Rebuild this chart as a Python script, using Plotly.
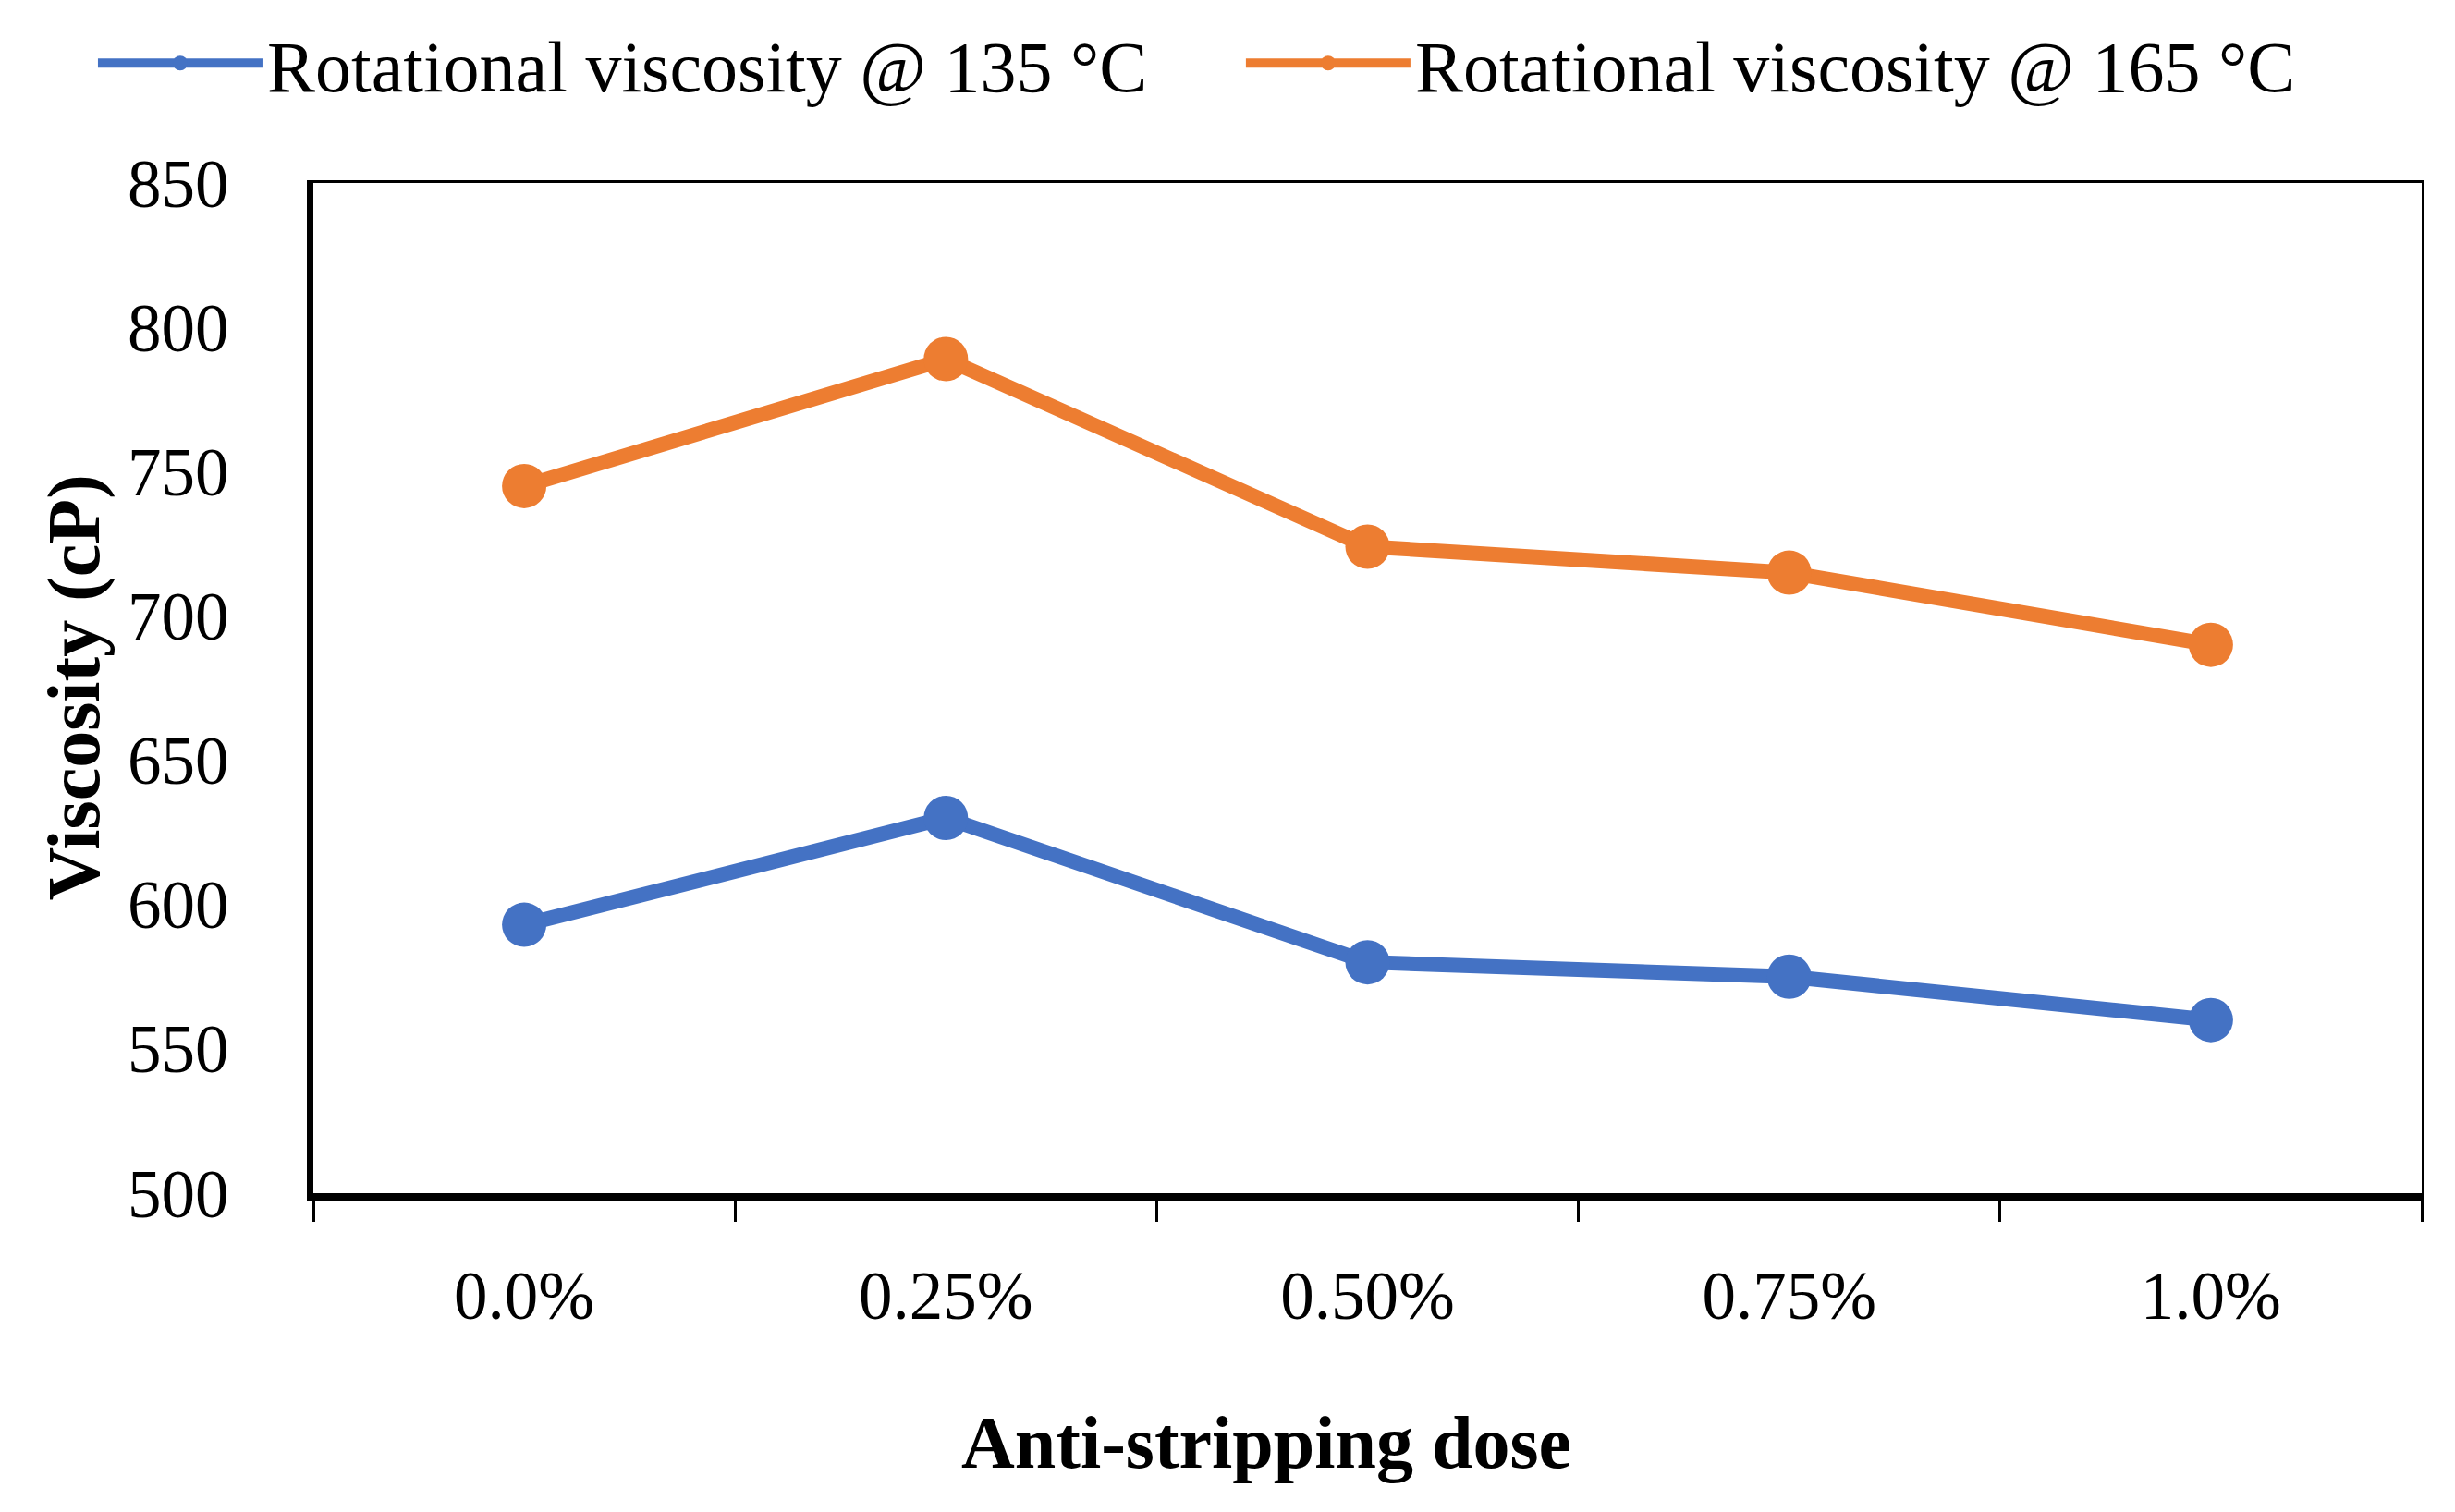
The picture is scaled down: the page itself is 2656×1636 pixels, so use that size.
import plotly.graph_objects as go

categories = ["0.0%", "0.25%", "0.50%", "0.75%", "1.0%"]
visc_135 = [593, 630, 580, 575, 560]
visc_165 = [745, 789, 724, 715, 690]
series_names = ["Rotational viscosity @ 135 °C", "Rotational viscosity @ 165 °C"]
y_ticks = [500, 550, 600, 650, 700, 750, 800, 850]

BLUE = "#4472C4"
ORANGE = "#ED7D31"
FONT = "Liberation Serif"

fig = go.Figure()
for name, vals, col, leg in [(series_names[0], visc_135, BLUE, "legend"),
                             (series_names[1], visc_165, ORANGE, "legend2")]:
    fig.add_trace(go.Scatter(
        x=categories, y=vals, name=name, mode="lines+markers",
        line=dict(color=col, width=16),
        marker=dict(color=col, size=48),
        legend=leg,
    ))

W, H = 2656, 1636
OFF = 8  # page body margin offset
L, R, T, B = 339 - OFF, 36 + OFF, 198 - OFF, 345 + OFF

legend_style = dict(
    orientation="h", xref="container", yref="container",
    y=0.963, xanchor="left", yanchor="middle",
    font=dict(family=FONT, size=78, color="black"),
    itemwidth=178, bgcolor="rgba(0,0,0,0)",
)

fig.update_layout(
    width=W, height=H, autosize=False,
    margin=dict(l=L, r=R, t=T, b=B, pad=0),
    paper_bgcolor="white", plot_bgcolor="white",
    font=dict(family=FONT, color="black", size=72),
    showlegend=True,
    legend=dict(legend_style, x=0.035),
    legend2=dict(legend_style, x=0.5026),
    xaxis=dict(
        type="category", range=[-0.5, 4.5],
        showline=True, linecolor="black", linewidth=8,
        ticks="outside", tickson="boundaries", ticklen=23, tickwidth=3, tickcolor="black",
        showgrid=False, zeroline=False,
        tickfont=dict(family=FONT, size=73, color="black"),
        ticklabelstandoff=40,
    ),
    yaxis=dict(
        range=[500, 850], tickvals=y_ticks,
        showline=True, linecolor="black", linewidth=7,
        ticks="", showgrid=False, zeroline=False,
        tickfont=dict(family=FONT, size=73, color="black"),
        ticklabelstandoff=70,
    ),
    xaxis2=dict(overlaying="x", side="top", matches="x", showline=True, linecolor="black",
                linewidth=3, showticklabels=False, ticks="", showgrid=False, zeroline=False),
    yaxis2=dict(overlaying="y", side="right", matches="y", showline=True, linecolor="black",
                linewidth=3, showticklabels=False, ticks="", showgrid=False, zeroline=False),
)

# invisible trace to activate the mirror axes
fig.add_trace(go.Scatter(x=categories, y=visc_135, xaxis="x2", yaxis="y2",
                         mode="none", showlegend=False, hoverinfo="skip"))

pw = W - L - R
ph = H - T - B
fig.add_annotation(text="<b>Anti-stripping dose</b>", xref="paper", yref="paper",
                   x=(1370 - OFF - L) / pw, y=-(1560 - 1290) / ph, xanchor="center", yanchor="middle",
                   showarrow=False, font=dict(family=FONT, size=80, color="black"))
fig.add_annotation(text="<b>Viscosity (cP)</b>", xref="paper", yref="paper",
                   x=(72 - L) / pw, y=0.5, xanchor="center", yanchor="middle",
                   textangle=-90, showarrow=False,
                   font=dict(family=FONT, size=80, color="black"))

fig.write_html("out.html")
